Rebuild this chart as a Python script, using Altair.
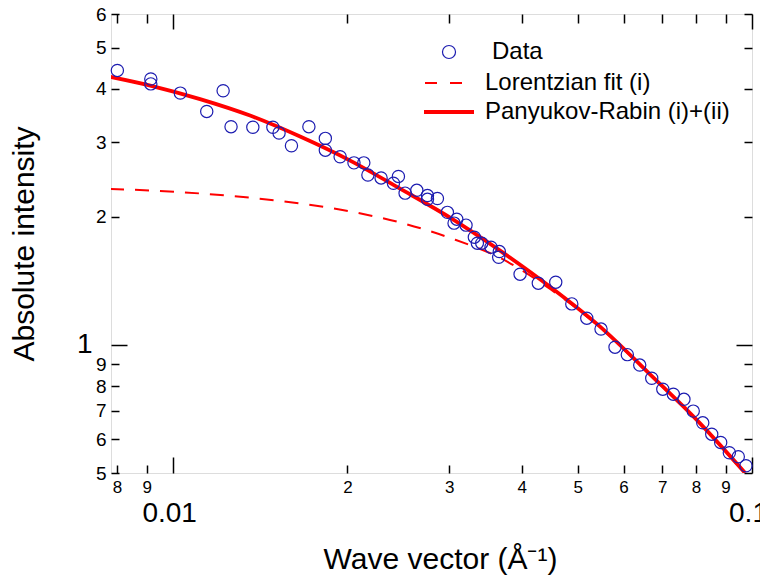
import altair as alt
import pandas as pd

# ---------------- data ----------------
q_data = [0.00801, 0.00915, 0.00915, 0.01029, 0.01143, 0.0122, 0.01259, 0.01373, 0.01487, 0.01524,
          0.01601, 0.01716, 0.01832, 0.01832, 0.01943, 0.02053, 0.02135, 0.02170, 0.02287, 0.02402,
          0.02450, 0.02516, 0.02636, 0.02750, 0.02750, 0.02861, 0.02977, 0.0309, 0.03057, 0.03206,
          0.03314, 0.03354, 0.03413, 0.03541, 0.0366, 0.03651, 0.03975, 0.04274, 0.04581, 0.04883,
          0.05183, 0.05485, 0.05799, 0.0609, 0.06398, 0.06711, 0.07013, 0.07313, 0.07628, 0.07916,
          0.08221, 0.0852, 0.08829, 0.09138, 0.09469, 0.09763]
I_data = [4.42, 4.22, 4.11, 3.91, 3.54, 3.96, 3.26, 3.25, 3.25, 3.15,
          2.94, 3.26, 3.06, 2.87, 2.77, 2.68, 2.68, 2.51, 2.47, 2.40,
          2.49, 2.275, 2.31, 2.245, 2.20, 2.21, 2.05, 1.976, 1.934, 1.913,
          1.792, 1.735, 1.735, 1.698, 1.658, 1.608, 1.467, 1.397, 1.405, 1.249,
          1.156, 1.090, 0.988, 0.949, 0.897, 0.835, 0.787, 0.766, 0.745, 0.699,
          0.656, 0.617, 0.590, 0.558, 0.546, 0.520]

q_fit = [0.00778, 0.00913, 0.01113, 0.01358, 0.01657, 0.02022, 0.02466, 0.03009, 0.03671,
         0.04479, 0.05464, 0.06666, 0.08133, 0.09725]
I_pr = [4.272, 4.073, 3.785, 3.462, 3.090, 2.713, 2.331, 1.992, 1.666,
        1.370, 1.104, 0.853, 0.654, 0.5004]
I_lor = [2.328, 2.308, 2.271, 2.219, 2.151, 2.060, 1.941, 1.785, 1.602,
         1.354, 1.0994, 0.850, 0.6518, 0.4984]

x_minor = [0.008, 0.009, 0.02, 0.03, 0.04, 0.05, 0.06, 0.07, 0.08, 0.09]
x_minor_labels = ["8", "9", "2", "3", "4", "5", "6", "7", "8", "9"]
x_major = [0.01, 0.1]
x_major_labels = ["0.01", "0.1"]
y_minor = [0.5, 0.6, 0.7, 0.8, 0.9, 2, 3, 4, 5, 6]
y_minor_labels = ["5", "6", "7", "8", "9", "2", "3", "4", "5", "6"]
y_major = [1]
y_major_labels = ["1"]

legend_labels = ["Data", "Lorentzian fit (i)", "Panyukov-Rabin (i)+(ii)"]

x_domain = [0.00781, 0.1]
y_domain = [0.5, 6.0]

# ---------------- styling ----------------
W, H = 641, 459
FONT = "Liberation Sans"
BLUE = "#1c1cb0"
RED = "#ff0000"

df_data = pd.DataFrame({"q": q_data, "I": I_data})
df_pr = pd.DataFrame({"q": q_fit, "I": I_pr})
df_lor = pd.DataFrame({"q": q_fit, "I": I_lor})


def lab_expr(vals, labs):
    v = ",".join(repr(x) for x in vals)
    l = ",".join("'" + s + "'" for s in labs)
    return f"[{l}][indexof([{v}], datum.value)]"


xs = alt.Scale(type="log", domain=x_domain, nice=False)
ys = alt.Scale(type="log", domain=y_domain, nice=False)


def tick_axis(orient, offset, values, size):
    return alt.Axis(orient=orient, offset=offset, values=values, tickSize=size, ticks=True,
                    tickColor="black", tickWidth=1.5, labels=False, domain=False, grid=False,
                    title=None)


# Layer 1: dashed Lorentzian, hosts minor labels
lor = alt.Chart(df_lor).mark_line(color=RED, strokeWidth=2, strokeDash=[14, 11],
                                  interpolate="monotone", clip=True).encode(
    x=alt.X("q:Q", scale=xs,
            axis=alt.Axis(orient="bottom", values=x_minor, labelExpr=lab_expr(x_minor, x_minor_labels),
                          ticks=False, domain=False, grid=False, labelFont=FONT, labelFontSize=17,
                          labelColor="black", labelPadding=6, labelFlush=False, labelOverlap=False,
                          title=None)),
    y=alt.Y("I:Q", scale=ys,
            axis=alt.Axis(orient="left", values=y_minor, labelExpr=lab_expr(y_minor, y_minor_labels),
                          ticks=False, domain=False, grid=False, labelFont=FONT, labelFontSize=19,
                          labelColor="black", labelPadding=5, labelFlush=False, labelOverlap=False,
                          title=None)),
)

# Layer 2: solid Panyukov-Rabin, hosts major labels and titles
pr = alt.Chart(df_pr).mark_line(color=RED, strokeWidth=3.8, interpolate="monotone", clip=True).encode(
    x=alt.X("q:Q", scale=xs,
            axis=alt.Axis(orient="bottom", values=x_major, labelExpr=lab_expr(x_major, x_major_labels),
                          ticks=False, domain=False, grid=False, labelFont=FONT, labelFontSize=28,
                          labelColor="black", labelPadding=26, labelOffset=-4, labelFlush=False,
                          labelOverlap=False,
                          title="Wave vector (Å⁻¹)", titleFont=FONT, titleFontSize=30,
                          titleFontWeight="normal", titleColor="black", titleX=329, titleY=95,
                          titleAlign="center", titleBaseline="alphabetic")),
    y=alt.Y("I:Q", scale=ys,
            axis=alt.Axis(orient="left", values=y_major, labelExpr=lab_expr(y_major, y_major_labels),
                          ticks=False, domain=False, grid=False, labelFont=FONT, labelFontSize=28,
                          labelColor="black", labelPadding=19, labelFlush=False, labelOverlap=False,
                          title="Absolute intensity", titleFont=FONT, titleFontSize=30,
                          titleFontWeight="normal", titleColor="black", titleX=-78, titleY=229.5,
                          titleAngle=270, titleAlign="center", titleBaseline="alphabetic")),
)

# Layer 3: data points, hosts inward minor ticks (bottom, left)
pts = alt.Chart(df_data).mark_point(shape="circle", filled=False, color=BLUE, size=150, opacity=1,
                                    strokeWidth=1.2).encode(
    x=alt.X("q:Q", scale=xs, axis=tick_axis("top", -H, x_minor, 8)),
    y=alt.Y("I:Q", scale=ys, axis=tick_axis("right", -W, y_minor, 8)),
)


# invisible hosts for the remaining inward ticks
def host(xax, yax):
    return alt.Chart(df_data).mark_point(opacity=0).encode(
        x=alt.X("q:Q", scale=xs, axis=xax),
        y=alt.Y("I:Q", scale=ys, axis=yax),
    )


h1 = host(tick_axis("top", -H, x_major, 16), tick_axis("right", -W, y_major, 16))
h2 = host(tick_axis("bottom", -H, x_minor, 9), tick_axis("left", -W, y_minor, 8))
h3 = host(tick_axis("bottom", -H, x_major, 15), tick_axis("left", -W, y_major, 16))

# manual legend (pixel positions inside the plot area)
leg_df = pd.DataFrame({"label": legend_labels})
LEG_Y = [38, 69, 98]
leg_circle = alt.Chart(leg_df.iloc[[0]]).mark_point(shape="circle", filled=False, color=BLUE, opacity=1,
                                                    size=170, strokeWidth=1.2).encode(
    x=alt.value(338), y=alt.value(LEG_Y[0]))
leg_dash = alt.Chart(leg_df.iloc[[1]]).mark_rule(color=RED, strokeWidth=2, strokeDash=[12, 13]).encode(
    x=alt.value(314), x2=alt.value(352), y=alt.value(LEG_Y[1]))
leg_solid = alt.Chart(leg_df.iloc[[2]]).mark_rule(color=RED, strokeWidth=3.8).encode(
    x=alt.value(313), x2=alt.value(363), y=alt.value(LEG_Y[2]))
leg_texts = [
    alt.Chart(leg_df.iloc[[i]]).mark_text(align="left", baseline="middle", font=FONT, fontSize=24,
                                          color="black").encode(
        text="label:N", x=alt.value(381 if i == 0 else 374), y=alt.value(LEG_Y[i]))
    for i in range(3)
]

chart = alt.layer(lor, pr, pts, h1, h2, h3, leg_circle, leg_dash, leg_solid, *leg_texts).resolve_axis(
    x="independent", y="independent"
).properties(
    width=W, height=H,
    autosize=alt.AutoSizeParams(type="none"),
    padding={"left": 103, "top": 6, "right": 8, "bottom": 105},
).configure_view(stroke="black", strokeWidth=1.6).configure(background="white")

chart.save("out.html", embed_options={"renderer": "svg", "actions": False})
